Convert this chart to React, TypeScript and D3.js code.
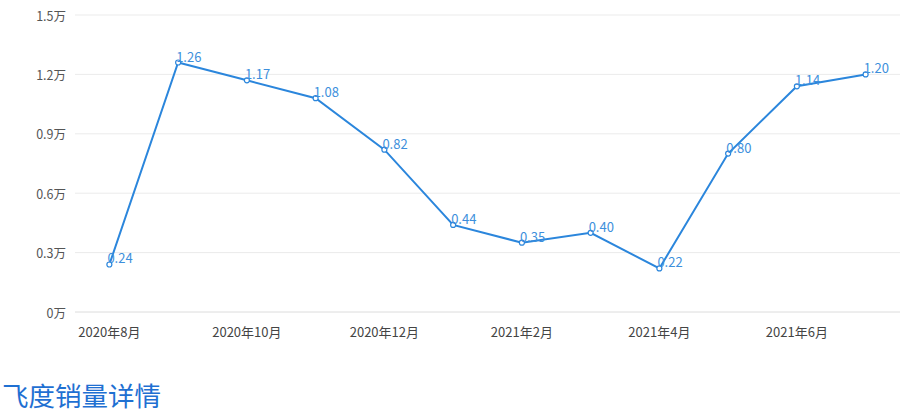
import { useEffect, useRef } from "react"
import * as d3 from "d3"

const months = [
  "2020年8月", "2020年9月", "2020年10月", "2020年11月", "2020年12月", "2021年1月",
  "2021年2月", "2021年3月", "2021年4月", "2021年5月", "2021年6月", "2021年7月",
]
const sales = [0.24, 1.26, 1.17, 1.08, 0.82, 0.44, 0.35, 0.4, 0.22, 0.8, 1.14, 1.2]
const yTicks = [0, 0.3, 0.6, 0.9, 1.2, 1.5]
const title = "飞度销量详情"

const width = 903
const height = 418
const font = "'Noto Sans CJK SC', 'Noto Sans', sans-serif"

export default function App() {
  const svgRef = useRef<SVGSVGElement>(null)

  useEffect(() => {
    if (!svgRef.current) return
    const svg = d3.select(svgRef.current)
    svg.selectAll("*").remove()

    const margin = { left: 75, right: 3, top: 15, bottom: 106 }

    const x = d3
      .scaleBand()
      .domain(months)
      .range([margin.left, width - margin.right])
    const y = d3
      .scaleLinear()
      .domain([0, 1.5])
      .range([height - margin.bottom, margin.top])

    const cx = (m: string) => (x(m) ?? 0) + x.bandwidth() / 2

    // grid + y labels
    const grid = svg.append("g")
    yTicks.forEach((t) => {
      grid
        .append("line")
        .attr("x1", margin.left)
        .attr("x2", width - margin.right)
        .attr("y1", y(t))
        .attr("y2", y(t))
        .attr("stroke", t === 0 ? "#dcdcdc" : "#ebebeb")
        .attr("stroke-width", 1)
      grid
        .append("text")
        .attr("x", margin.left - 9)
        .attr("y", y(t))
        .attr("text-anchor", "end")
        .attr("dominant-baseline", "central")
        .attr("font-size", 12.5)
        .attr("font-family", font)
        .attr("fill", "#555")
        .text(`${t}万`)
    })

    // x labels, every other month
    months.forEach((m, i) => {
      if (i % 2 !== 0) return
      svg
        .append("text")
        .attr("x", cx(m))
        .attr("y", y(0) + 25)
        .attr("text-anchor", "middle")
        .attr("font-size", 13)
        .attr("font-family", font)
        .attr("fill", "#444")
        .text(m)
    })

    const line = d3
      .line<number>()
      .x((_, i) => cx(months[i]))
      .y((d) => y(d))

    svg
      .append("path")
      .datum(sales)
      .attr("d", line)
      .attr("fill", "none")
      .attr("stroke", "#2b86dc")
      .attr("stroke-width", 2)

    sales.forEach((v, i) => {
      svg
        .append("circle")
        .attr("cx", cx(months[i]))
        .attr("cy", y(v))
        .attr("r", 2.5)
        .attr("fill", "#fff")
        .attr("stroke", "#2b86dc")
        .attr("stroke-width", 1.2)
      svg
        .append("text")
        .attr("x", cx(months[i]) - 2)
        .attr("y", y(v) - 1)
        .attr("font-size", 13)
        .attr("font-family", font)
        .attr("fill", "#3d8fdc")
        .text(v.toFixed(2))
    })

    svg
      .append("text")
      .attr("x", 2)
      .attr("y", 406)
      .attr("font-size", 26.5)
      .attr("font-family", font)
      .attr("fill", "#1f70d2")
      .text(title)
  }, [])

  return (
    <svg
      ref={svgRef}
      width={width}
      height={height}
      style={{ position: "absolute", left: 0, top: 0, background: "#fff" }}
    />
  )
}
